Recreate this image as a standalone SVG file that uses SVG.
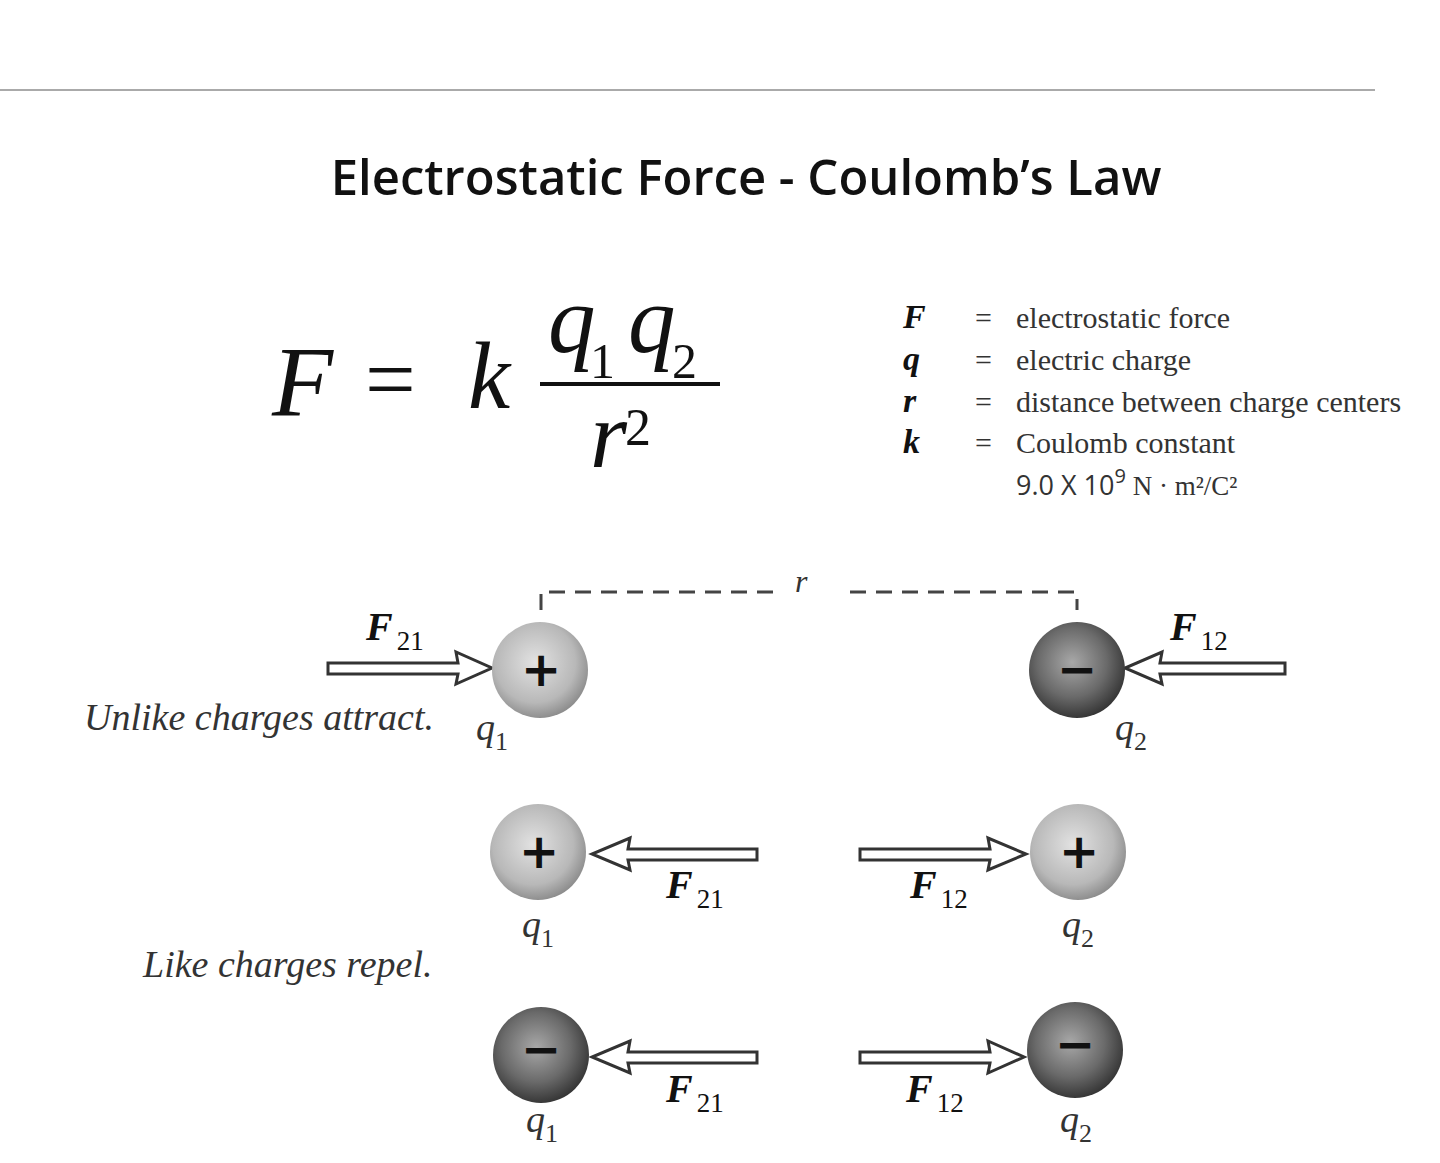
<svg xmlns="http://www.w3.org/2000/svg" width="1440" height="1163" viewBox="0 0 1440 1163">
<defs>
<radialGradient id="lg" cx="0.45" cy="0.42" r="0.6"><stop offset="0" stop-color="#e2e2e2"/><stop offset="0.7" stop-color="#b8b8b8"/><stop offset="1" stop-color="#8a8a8a"/></radialGradient>
<radialGradient id="dg" cx="0.45" cy="0.42" r="0.6"><stop offset="0" stop-color="#a8a8a8"/><stop offset="0.6" stop-color="#6a6a6a"/><stop offset="1" stop-color="#333"/></radialGradient>
<style>
.s{font-family:"Liberation Serif",serif}
.bi{font-family:"Liberation Serif",serif;font-weight:bold;font-style:italic;fill:#111}
.it{font-family:"Liberation Serif",serif;font-style:italic;fill:#333}
.ar{fill:#fff;stroke:#333;stroke-width:3}
.sg{font-family:"DejaVu Sans",sans-serif;font-size:48px;text-anchor:middle;fill:#111;font-weight:bold}
</style>
</defs>
<line x1="0" y1="90" x2="1375" y2="90" stroke="#aaa" stroke-width="2"/>
<text x="746" y="195" text-anchor="middle" font-family="Open Sans,sans-serif" font-size="49" font-weight="600" fill="#111">Electrostatic Force - Coulomb’s Law</text>
<g id="formula" class="s" fill="#111">
<text x="272" y="415" font-size="100" font-style="italic">F</text>
<text x="365" y="410" font-size="90">=</text>
<text x="468" y="408" font-size="95" font-style="italic">k</text>
<text x="548" y="352" font-size="95" font-style="italic">q</text>
<text x="590" y="378" font-size="50">1</text>
<text x="628" y="352" font-size="95" font-style="italic">q</text>
<text x="672" y="378" font-size="50">2</text>
<line x1="540" y1="384" x2="720" y2="384" stroke="#111" stroke-width="4"/>
<text x="590" y="467" font-size="95" font-style="italic">r</text>
<text x="625" y="445" font-size="52">2</text>
</g>
<g id="legend" class="s" font-size="30" fill="#333">
<text class="bi" x="903" y="328" font-size="34">F</text>
<text class="bi" x="903" y="370" font-size="34">q</text>
<text class="bi" x="903" y="412" font-size="34">r</text>
<text class="bi" x="903" y="453" font-size="34">k</text>
<text x="975" y="328">=</text><text x="975" y="370">=</text><text x="975" y="412">=</text><text x="975" y="453">=</text>
<text x="1016" y="328">electrostatic force</text>
<text x="1016" y="370">electric charge</text>
<text x="1016" y="412">distance between charge centers</text>
<text x="1016" y="453">Coulomb constant</text>
<text x="1016" y="495"><tspan font-family="Open Sans,sans-serif" font-size="27">9.0 X 10</tspan><tspan font-family="Open Sans,sans-serif" font-size="20" dy="-12">9</tspan><tspan dy="12" font-size="27"> N · m²/C²</tspan></text>
</g>
<g id="connectors">
<path d="M541 610V592H775M850 592H1077V610" fill="none" stroke="#444" stroke-width="3" stroke-dasharray="16 10"/>
<text class="it" x="795" y="592" font-size="32">r</text>
<polygon class="ar" points="328,663 458,663 456,652 492,668 456,684 458,674 328,674"/>
<polygon class="ar" points="1285,663 1160,663 1162,652 1125,668 1162,684 1160,674 1285,674"/>
<polygon class="ar" points="757,849 628,849 630,838 592,854 630,870 628,860 757,860"/>
<polygon class="ar" points="860,849 990,849 988,838 1026,854 988,870 990,860 860,860"/>
<polygon class="ar" points="757,1052 628,1052 630,1041 592,1057 630,1073 628,1063 757,1063"/>
<polygon class="ar" points="860,1052 990,1052 988,1041 1024,1057 988,1073 990,1063 860,1063"/>
</g>
<g id="labels">
<text class="bi" x="366" y="640" font-size="40">F<tspan font-size="27" font-weight="normal" font-style="normal" dx="4" dy="10">21</tspan></text>
<text class="bi" x="1170" y="640" font-size="40">F<tspan font-size="27" font-weight="normal" font-style="normal" dx="4" dy="10">12</tspan></text>
<text class="bi" x="666" y="898" font-size="40">F<tspan font-size="27" font-weight="normal" font-style="normal" dx="4" dy="10">21</tspan></text>
<text class="bi" x="910" y="898" font-size="40">F<tspan font-size="27" font-weight="normal" font-style="normal" dx="4" dy="10">12</tspan></text>
<text class="bi" x="666" y="1102" font-size="40">F<tspan font-size="27" font-weight="normal" font-style="normal" dx="4" dy="10">21</tspan></text>
<text class="bi" x="906" y="1102" font-size="40">F<tspan font-size="27" font-weight="normal" font-style="normal" dx="4" dy="10">12</tspan></text>
<text class="it" x="84" y="730" font-size="38">Unlike charges attract.</text>
<text class="it" x="143" y="977" font-size="38">Like charges repel.</text>
<text class="it" x="476" y="740" font-size="38">q<tspan font-style="normal" font-size="26" dy="10">1</tspan></text>
<text class="it" x="1115" y="740" font-size="38">q<tspan font-style="normal" font-size="26" dy="10">2</tspan></text>
<text class="it" x="522" y="937" font-size="38">q<tspan font-style="normal" font-size="26" dy="10">1</tspan></text>
<text class="it" x="1062" y="937" font-size="38">q<tspan font-style="normal" font-size="26" dy="10">2</tspan></text>
<text class="it" x="526" y="1132" font-size="38">q<tspan font-style="normal" font-size="26" dy="10">1</tspan></text>
<text class="it" x="1060" y="1132" font-size="38">q<tspan font-style="normal" font-size="26" dy="10">2</tspan></text>
</g>
<g id="q1a"><circle cx="540" cy="670" r="48" fill="url(#lg)"/><text class="sg" x="541" y="686">+</text></g>
<g id="q2a"><circle cx="1077" cy="670" r="48" fill="url(#dg)"/><text class="sg" x="1077" y="686">−</text></g>
<g id="q1b"><circle cx="538" cy="852" r="48" fill="url(#lg)"/><text class="sg" x="539" y="868">+</text></g>
<g id="q2b"><circle cx="1078" cy="852" r="48" fill="url(#lg)"/><text class="sg" x="1079" y="868">+</text></g>
<g id="q1c"><circle cx="541" cy="1055" r="48" fill="url(#dg)"/><text class="sg" x="541" y="1066">−</text></g>
<g id="q2c"><circle cx="1075" cy="1050" r="48" fill="url(#dg)"/><text class="sg" x="1075" y="1061">−</text></g>
</svg>
